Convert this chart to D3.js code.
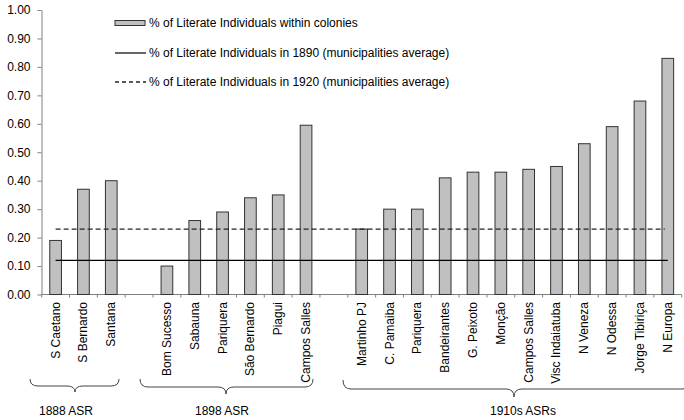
<!DOCTYPE html>
<head>
<meta charset="utf-8">
<script src="https://d3js.org/d3.v7.min.js"></script>
<style>
  body { margin: 0; background: #fff; }
  text { font-family: "Liberation Sans", Arial, sans-serif; fill: #000; }
</style>
</head>
<body>
<script>

// categories ("" = empty gap slot between groups)
var names = ["S Caetano", "S Bernardo", "Santana", "",
  "Bom Sucesso", "Sabauna", "Pariquera", "São Bernardo", "Piagui", "Campos Salles", "",
  "Martinho PJ", "C. Pamaiba", "Pariquera", "Bandeirantes", "G. Peixoto", "Monção",
  "Campos Salles", "Visc Indaiatuba", "N Veneza", "N Odessa", "Jorge Tibiriça", "N Europa"];
var literate = [0.19, 0.37, 0.40, null,
  0.10, 0.26, 0.29, 0.34, 0.35, 0.595, null,
  0.23, 0.30, 0.30, 0.41, 0.43, 0.43, 0.44, 0.45, 0.53, 0.59, 0.68, 0.83];
var avg1890 = 0.12;
var avg1920 = 0.23;
var yTicks = [0, 0.1, 0.2, 0.3, 0.4, 0.5, 0.6, 0.7, 0.8, 0.9, 1.0];
var groups = [
  { label: "1888 ASR", from: 0, to: 2 },
  { label: "1898 ASR", from: 4, to: 9 },
  { label: "1910s ASRs", from: 11, to: 22 }
];
var legendLabels = [
  "% of Literate Individuals within colonies",
  "% of Literate Individuals in 1890 (municipalities average)",
  "% of Literate Individuals in 1920 (municipalities average)"
];

var width = 684, height = 420;
var svg = d3.select("body").append("svg")
  .attr("width", width).attr("height", height);

var idx = d3.range(names.length);
var x = d3.scaleBand().domain(idx).range([41.7, 681.7]).paddingInner(0.58).paddingOuter(0.29);
var step = x.step();
var y = d3.scaleLinear().domain([0, 1]).range([294.5, 10]);

// y axis
var yAxis = svg.append("g").attr("transform", "translate(41.5,0)")
  .call(d3.axisLeft(y).tickValues(yTicks).tickFormat(d3.format(".2f")).tickSize(4).tickSizeOuter(0));
yAxis.select(".domain").attr("stroke", "#808080");
yAxis.selectAll(".tick line").attr("stroke", "#808080");
yAxis.selectAll(".tick text").attr("x", -11).style("font-size", "12px")
  .style("font-family", "'Liberation Sans', Arial, sans-serif");

// x axis line with small ticks at slot boundaries
svg.append("line").attr("x1", 41.5).attr("x2", 681.7)
  .attr("y1", y(0)).attr("y2", y(0)).attr("stroke", "#808080");
svg.selectAll(".xtick").data(d3.range(names.length + 1)).enter().append("line")
  .attr("x1", function (d) { return 41.7 + d * step; })
  .attr("x2", function (d) { return 41.7 + d * step; })
  .attr("y1", y(0)).attr("y2", y(0) + 3).attr("stroke", "#808080");

// bars
svg.selectAll(".bar").data(idx.filter(function (i) { return literate[i] != null; }))
  .enter().append("rect")
  .attr("x", function (i) { return x(i); })
  .attr("width", x.bandwidth())
  .attr("y", function (i) { return y(literate[i]); })
  .attr("height", function (i) { return y(0) - y(literate[i]); })
  .attr("fill", "#c0c0c0").attr("stroke", "#333").attr("stroke-width", 1);

// average lines
var cx0 = x(0) + x.bandwidth() / 2;
var cx1 = x(names.length - 1) + x.bandwidth() / 2;
svg.append("line").attr("x1", cx0).attr("x2", cx1)
  .attr("y1", y(avg1890)).attr("y2", y(avg1890))
  .attr("stroke", "#000").attr("stroke-width", 1.2);
svg.append("line").attr("x1", cx0).attr("x2", cx1 - 3)
  .attr("y1", y(avg1920)).attr("y2", y(avg1920))
  .attr("stroke", "#222").attr("stroke-width", 1.3).attr("stroke-dasharray", "5,3");

// category labels
svg.selectAll(".xlab").data(idx.filter(function (i) { return names[i] !== ""; }))
  .enter().append("text")
  .attr("transform", function (i) {
    return "translate(" + (x(i) + x.bandwidth() / 2 + 4) + ",302) rotate(-90)";
  })
  .attr("text-anchor", "end")
  .style("font-size", "12px")
  .text(function (i) { return names[i]; });

// braces and group labels
var braceSpec = [
  { x0: 30, x1: 119, t: 75, top: 379, mid: 386, tip: 392, lx: 66 },
  { x0: 140, x1: 313, t: 226, top: 379, mid: 387, tip: 394, lx: 222 },
  { x0: 343, x1: 690, t: 514, top: 380, mid: 389, tip: 397, lx: 523 }
];
braceSpec.forEach(function (b, k) {
  var t = b.t;
  var r = 8;
  var p = "M" + b.x0 + "," + b.top +
    " Q" + b.x0 + "," + b.mid + " " + (b.x0 + r) + "," + b.mid +
    " L" + (t - r) + "," + b.mid +
    " Q" + t + "," + b.mid + " " + t + "," + b.tip +
    " Q" + t + "," + b.mid + " " + (t + r) + "," + b.mid +
    " L" + (b.x1 - r) + "," + b.mid +
    " Q" + b.x1 + "," + b.mid + " " + b.x1 + "," + b.top;
  svg.append("path").attr("d", p).attr("fill", "none")
    .attr("stroke", "#444").attr("stroke-width", 1);
  svg.append("text").attr("x", b.lx).attr("y", 415)
    .attr("text-anchor", "middle").style("font-size", "12px")
    .text(groups[k].label);
});

// legend
var legend = svg.append("g");
var ly = [23, 53, 82];
legend.append("rect").attr("x", 115).attr("y", ly[0] - 2.5).attr("width", 30).attr("height", 5)
  .attr("fill", "#c0c0c0").attr("stroke", "#333");
legend.append("line").attr("x1", 115).attr("x2", 146).attr("y1", ly[1]).attr("y2", ly[1])
  .attr("stroke", "#000").attr("stroke-width", 1.2);
legend.append("line").attr("x1", 115).attr("x2", 146).attr("y1", ly[2]).attr("y2", ly[2])
  .attr("stroke", "#222").attr("stroke-width", 1.3).attr("stroke-dasharray", "4,3");
legendLabels.forEach(function (s, i) {
  legend.append("text").attr("x", 149).attr("y", ly[i] + 4)
    .style("font-size", "12px").text(s);
});

</script>
</body>
